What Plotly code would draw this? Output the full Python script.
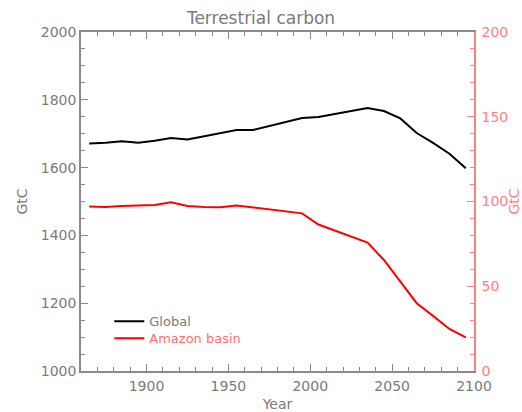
import plotly.graph_objects as go

years = [1865, 1875, 1885, 1895, 1905, 1915, 1925, 1935, 1945, 1955, 1965, 1975,
         1985, 1995, 2005, 2015, 2025, 2035, 2045, 2055, 2065, 2075, 2085, 2095]
global_gtc = [1671, 1673, 1678, 1673, 1679, 1687, 1683, 1693, 1703, 1711, 1711, 1722,
              1735, 1746, 1749, 1758, 1767, 1776, 1767, 1745, 1702, 1673, 1641, 1598]
amazon_gtc = [97.1, 96.8, 97.3, 97.7, 97.9, 99.5, 97.3, 96.7, 96.6, 97.7, 96.6, 95.5,
              94.3, 93.0, 86.4, 83.0, 79.5, 75.8, 65.5, 53.0, 40.0, 32.5, 24.8, 19.8]

GREY = "#7a7a7a"
AXGREY = "#8a8a8a"
RED = "#ff0000"
LRED = "#ff8080"
FONT = "DejaVu Sans"

fig = go.Figure()
fig.add_trace(go.Scatter(x=years, y=global_gtc, mode="lines", name="Global",
                         legend="legend",
                         line=dict(color="black", width=2)))
fig.add_trace(go.Scatter(x=years, y=amazon_gtc, mode="lines", yaxis="y2",
                         name="Amazon basin", legend="legend2",
                         line=dict(color=RED, width=2)))

fig.update_layout(
    width=522, height=412,
    margin=dict(l=81, r=48, t=32, b=41, autoexpand=False),
    paper_bgcolor="white", plot_bgcolor="white",
    font=dict(family=FONT, size=14, color=GREY),
    title=dict(text="Terrestrial carbon", x=0.5, xanchor="center",
               y=1 - 18 / 412, yanchor="middle", yref="container",
               font=dict(size=17, color=GREY)),
    showlegend=True,
    legend=dict(x=0.072, y=0.191, xanchor="left", yanchor="top",
                bgcolor="rgba(0,0,0,0)", font=dict(size=13, color=GREY)),
    legend2=dict(x=0.072, y=0.141, xanchor="left", yanchor="top",
                 bgcolor="rgba(0,0,0,0)", font=dict(size=13, color="#ff7070")),
    xaxis=dict(range=[1860, 2100], dtick=50, tick0=1900, showgrid=False, zeroline=False,
               automargin=False,
               showline=True, linecolor=AXGREY, linewidth=1.5, mirror="ticks",
               ticks="inside", ticklen=7, tickcolor=AXGREY, tickwidth=1,
               minor=dict(dtick=10, ticks="inside", ticklen=4, tickcolor=AXGREY),
               ticklabelstandoff=1,
               title=dict(text="Year", standoff=12, font=dict(size=14, color=GREY)),
               tickfont=dict(size=14, color=GREY)),
    yaxis=dict(range=[1000, 2000], dtick=200, showgrid=False, zeroline=False,
               automargin=False,
               showline=True, linecolor=AXGREY, linewidth=1.5,
               ticks="inside", ticklen=7, tickcolor=AXGREY, tickwidth=1,
               minor=dict(dtick=50, ticks="inside", ticklen=4, tickcolor=AXGREY),
               title=dict(text="GtC", standoff=10, font=dict(size=14, color=GREY)),
               tickfont=dict(size=14, color=GREY)),
    yaxis2=dict(range=[0, 200], dtick=50, overlaying="y", side="right",
                showgrid=False, zeroline=False, automargin=False,
                showline=True, linecolor=LRED, linewidth=1.5,
                ticks="inside", ticklen=7, tickcolor=LRED, tickwidth=1,
                minor=dict(dtick=10, ticks="inside", ticklen=4, tickcolor=LRED),
                ticklabelstandoff=3,
                title=dict(text="GtC", standoff=8, font=dict(size=14, color=LRED)),
                tickfont=dict(size=14, color=LRED)),
)

fig.write_html("out.html")
